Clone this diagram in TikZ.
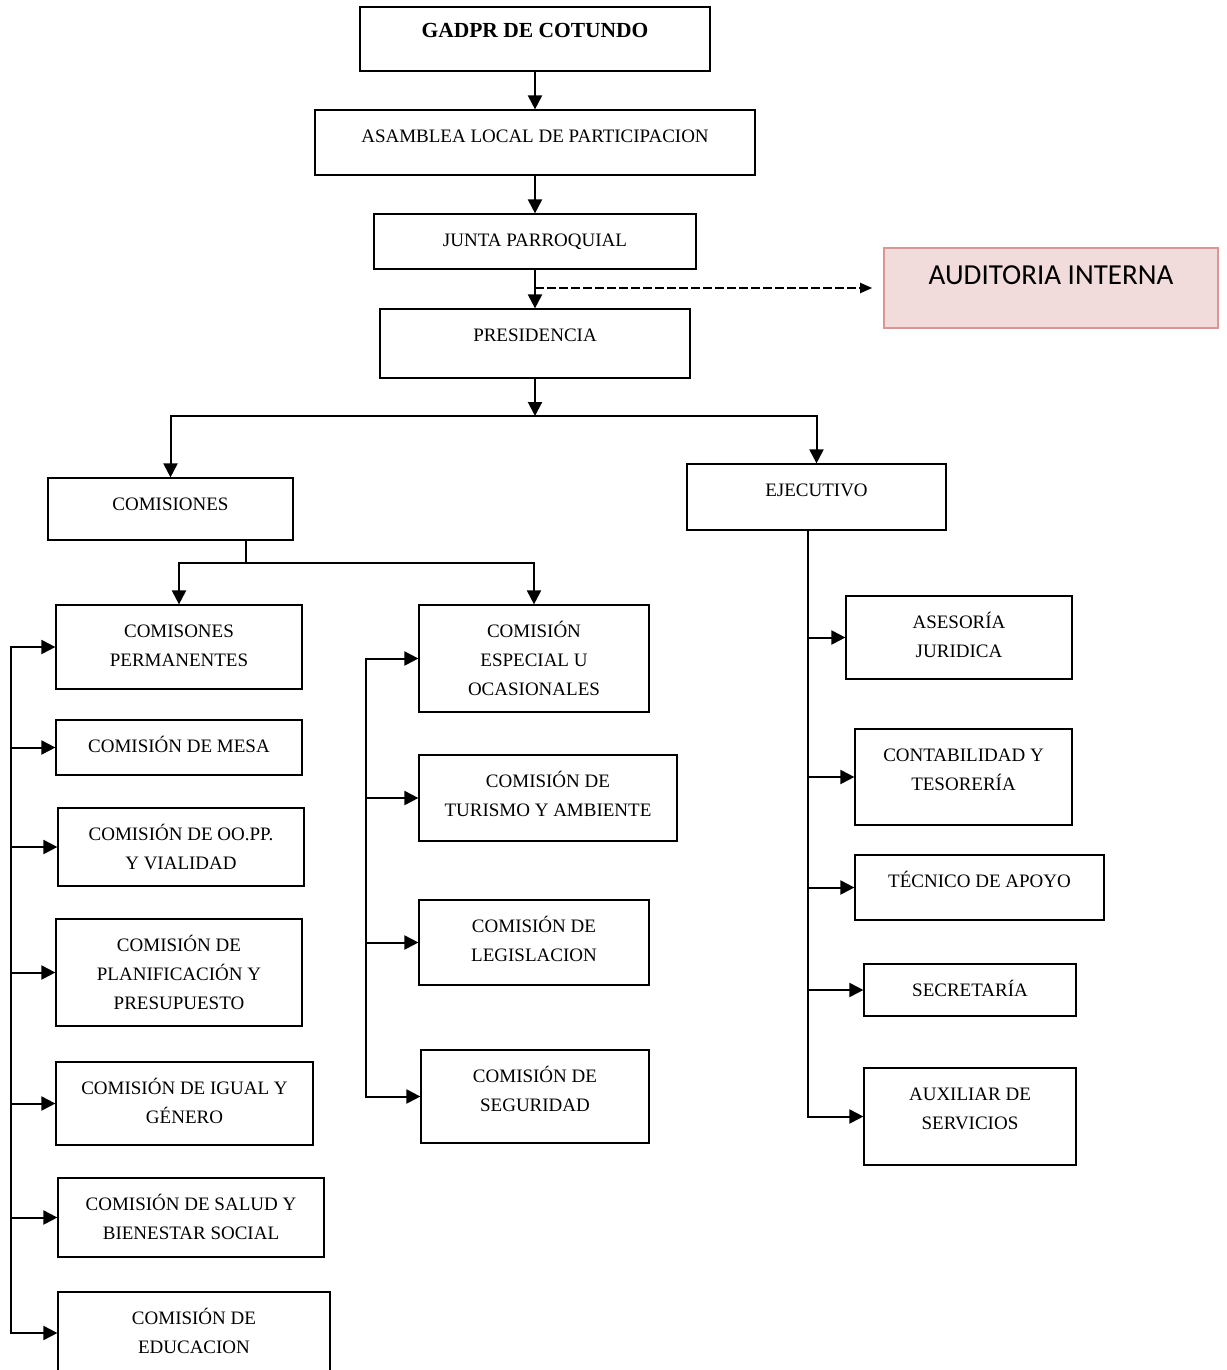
\documentclass[tikz,border=0pt]{standalone}
\usepackage{fontspec}
\setmainfont{Liberation Serif}
\newfontfamily\calibrifont{Carlito}
\usepackage{xcolor}
\usetikzlibrary{arrows.meta, calc}
\definecolor{audfill}{RGB}{242,220,219}
\definecolor{auddraw}{RGB}{217,150,148}

\begin{document}
\begin{tikzpicture}[
  x=1pt, y=-1pt,
  font=\fontsize{19}{29}\selectfont,
  org/.style 2 args={draw, line width=1.2pt, inner sep=0pt,
    execute at begin node={\begin{minipage}[c][#2][t]{#1}\centering\vspace{12pt}\strut},
    execute at end node={\end{minipage}}},
  arr/.style={-{Triangle[length=14pt,width=14pt]}, line width=2pt},
  ln/.style={line width=2pt, line cap=rect}
]
\useasboundingbox (0,0) rectangle (1226,1370);

\node[org={350pt}{64pt}, font=\fontsize{21.5}{26}\selectfont\bfseries] (gadpr) at (535,39) {GADPR DE COTUNDO};
\node[org={440pt}{65pt}] (asam) at (535,142.5) {ASAMBLEA LOCAL DE PARTICIPACION};
\node[org={322pt}{55pt}] (junta) at (535,241.5) {JUNTA PARROQUIAL};
\node[org={310pt}{69pt}] (presid) at (535,343.5) {PRESIDENCIA};
\node[org={334pt}{80pt}, draw=auddraw, fill=audfill, line width=1.6pt,
      font=\calibrifont\fontsize{29}{35}\selectfont] (audit) at (1051,288) {AUDITORIA INTERNA};

\node[org={245pt}{62pt}] (com) at (170.5,509) {COMISIONES};
\node[org={259pt}{66pt}] (ejec) at (816.5,497) {EJECUTIVO};

\node[org={246pt}{84pt}] (perm) at (179,647) {COMISONES\\PERMANENTES};
\node[org={246pt}{55pt}] (mesa) at (179,747.5) {COMISIÓN DE MESA};
\node[org={246pt}{78pt}] (oopp) at (181,847) {COMISIÓN DE OO.PP.\\Y VIALIDAD};
\node[org={246pt}{107pt}] (planif) at (179,972.5) {COMISIÓN DE\\PLANIFICACIÓN Y\\PRESUPUESTO};
\node[org={257pt}{83pt}] (igual) at (184.5,1103.5) {COMISIÓN DE IGUAL Y\\GÉNERO};
\node[org={266pt}{79pt}] (salud) at (191,1217.5) {COMISIÓN DE SALUD Y\\BIENESTAR SOCIAL};
\node[org={272pt}{82pt}] (educ) at (194,1333) {COMISIÓN DE\\EDUCACION};

\node[org={230pt}{107pt}] (esp) at (534,658.5) {COMISIÓN\\ESPECIAL U\\OCASIONALES};
\node[org={258pt}{86pt}] (tur) at (548,798) {COMISIÓN DE\\TURISMO Y AMBIENTE};
\node[org={230pt}{85pt}] (legis) at (534,942.5) {COMISIÓN DE\\LEGISLACION};
\node[org={228pt}{93pt}] (segur) at (535,1096.5) {COMISIÓN DE\\SEGURIDAD};

\node[org={226pt}{83pt}] (ases) at (959,637.5) {ASESORÍA\\JURIDICA};
\node[org={217pt}{96pt}] (contab) at (963.5,777) {CONTABILIDAD Y\\TESORERÍA};
\node[org={249pt}{65pt}] (tecn) at (979.5,887.5) {TÉCNICO DE APOYO};
\node[org={212pt}{52pt}] (secr) at (970,990) {SECRETARÍA};
\node[org={212pt}{97pt}] (aux) at (970,1116.5) {AUXILIAR DE\\SERVICIOS};

\coordinate (dj) at (535,288);
\coordinate (bar) at (535,416);
\coordinate (cb) at (246,563);
\coordinate (lt) at (11,0);
\coordinate (mt) at (366,0);
\coordinate (rt) at (808,0);

\draw[arr] (gadpr.south) -- (asam.north);
\draw[arr] (asam.south) -- (junta.north);
\draw[arr] (junta.south) -- (presid.north);
\draw[-{Triangle[length=12pt,width=10pt]}, line width=2pt, dash pattern=on 9pt off 3pt]
  (dj) -- ([xshift=-11pt]audit.west);

\draw[arr] (presid.south) -- (bar);
\draw[arr] (bar) -| (com.north);
\draw[arr] (bar) -| (ejec.north);

\draw[ln] (com.south -| cb) -- (cb);
\draw[arr] (cb) -| (perm.north);
\draw[arr] (cb) -| (esp.north);

\draw[ln] (lt |- perm.west) -- (lt |- educ.west);
\foreach \n in {perm,mesa,oopp,planif,igual,salud,educ}
  \draw[arr] (lt |- \n.west) -- (\n.west);

\draw[ln] (mt |- esp.west) -- (mt |- segur.west);
\foreach \n in {esp,tur,legis,segur}
  \draw[arr] (mt |- \n.west) -- (\n.west);

\draw[ln] (ejec.south -| rt) -- (rt |- aux.west);
\foreach \n in {ases,contab,tecn,secr,aux}
  \draw[arr] (rt |- \n.west) -- (\n.west);
\end{tikzpicture}
\end{document}
